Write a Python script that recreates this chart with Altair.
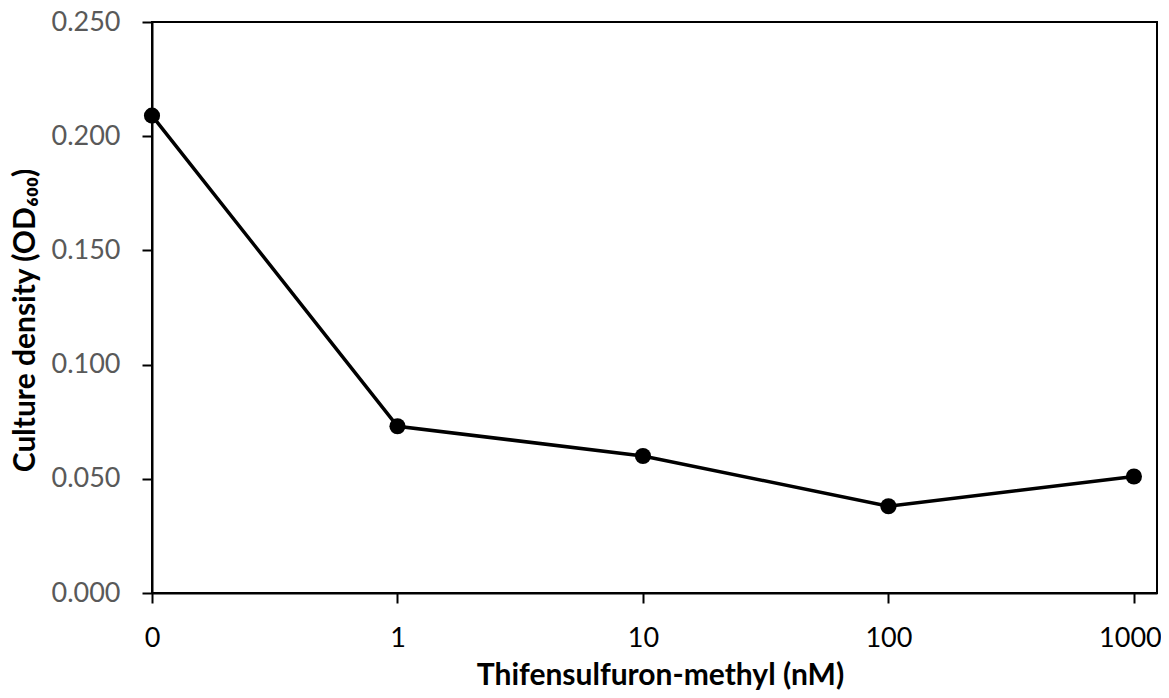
import altair as alt
import pandas as pd

concentrations = ["0", "1", "10", "100", "1000"]
positions = [0, 1, 2, 3, 4]
od600 = [0.209, 0.073, 0.060, 0.038, 0.051]

df = pd.DataFrame({"pos": positions, "label": concentrations, "od": od600})

FONT = "Lato"

base = alt.Chart(df).encode(
    x=alt.X(
        "pos:Q",
        scale=alt.Scale(domain=[0, 4.094], nice=False, zero=False),
        axis=alt.Axis(
            values=positions,
            labelExpr="['0','1','10','100','1000'][datum.value]",
            title="Thifensulfuron-methyl (nM)",
            grid=False,
            tickSize=10,
            labelPadding=22,
            labelFlush=False,
            titlePadding=9,
            titleX=508,
            labelColor="black",
            labelOffset={"condition": {"test": "datum.value == 4", "value": -4}, "value": 0},
        ),
    ),
    y=alt.Y(
        "od:Q",
        scale=alt.Scale(domain=[0, 0.25], nice=False),
        axis=alt.Axis(
            values=[0, 0.05, 0.1, 0.15, 0.2, 0.25],
            format=".3f",
            title="Culture density (OD₆₀₀)",
            grid=False,
            tickSize=10,
            labelPadding=22,
            labelFlush=False,
            titlePadding=10,
            titleY=298,
            labelColor="#595959",
        ),
    ),
)

line = base.mark_line(color="black", strokeWidth=3.5)
points = base.mark_circle(color="black", size=260, opacity=1)

chart = (
    (line + points)
    .properties(
        width=1005,
        height=571,
        autosize=alt.AutoSizeParams(type="none"),
        padding={"left": 144, "top": 14, "right": 4, "bottom": 97},
    )
    .configure_view(stroke="black", strokeWidth=2)
    .configure_axis(
        domainColor="black",
        domainWidth=2,
        tickColor="black",
        tickWidth=2,
        labelFont=FONT,
        labelFontSize=27,
        titleFont=FONT,
        titleFontSize=30,
        titleFontWeight="bold",
        titleColor="black",
    )
)

chart.save("out.html", embed_options={"renderer": "svg", "actions": False})
